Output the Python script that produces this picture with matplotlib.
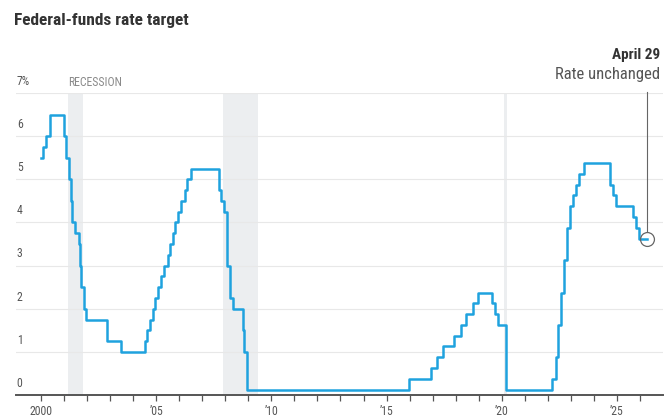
import matplotlib
matplotlib.use('Agg')
import matplotlib.pyplot as plt
from matplotlib import font_manager
import datetime

# fed funds target (midpoint of range after 2008), date of change -> new rate
change_dates = [
    '2000-01-01', '2000-02-02', '2000-03-21', '2000-05-16',
    '2001-01-03', '2001-01-31', '2001-03-20', '2001-04-18', '2001-05-15',
    '2001-06-27', '2001-08-21', '2001-09-17', '2001-10-02', '2001-11-06',
    '2001-12-11', '2002-11-06', '2003-06-25',
    '2004-06-30', '2004-08-10', '2004-09-21', '2004-11-10', '2004-12-14',
    '2005-02-02', '2005-03-22', '2005-05-03', '2005-06-30', '2005-08-09',
    '2005-09-20', '2005-11-01', '2005-12-13',
    '2006-01-31', '2006-03-28', '2006-05-10', '2006-06-29',
    '2007-09-18', '2007-10-31', '2007-12-11',
    '2008-01-22', '2008-01-30', '2008-03-18', '2008-04-30', '2008-10-08',
    '2008-10-29', '2008-12-16',
    '2015-12-16', '2016-12-14', '2017-03-15', '2017-06-14', '2017-12-13',
    '2018-03-21', '2018-06-13', '2018-09-26', '2018-12-19',
    '2019-07-31', '2019-09-18', '2019-10-30',
    '2020-03-03', '2020-03-15',
    '2022-03-16', '2022-05-04', '2022-06-15', '2022-07-27', '2022-09-21',
    '2022-11-02', '2022-12-14',
    '2023-02-01', '2023-03-22', '2023-05-03', '2023-07-26',
    '2024-09-18', '2024-11-07', '2024-12-18',
    '2025-09-17', '2025-10-29', '2025-12-10',
    '2026-04-29',
]
rates = [
    5.5, 5.75, 6.0, 6.5,
    6.0, 5.5, 5.0, 4.5, 4.0,
    3.75, 3.5, 3.0, 2.5, 2.0,
    1.75, 1.25, 1.0,
    1.25, 1.5, 1.75, 2.0, 2.25,
    2.5, 2.75, 3.0, 3.25, 3.5,
    3.75, 4.0, 4.25,
    4.5, 4.75, 5.0, 5.25,
    4.75, 4.5, 4.25,
    3.5, 3.0, 2.25, 2.0, 1.5,
    1.0, 0.125,
    0.375, 0.625, 0.875, 1.125, 1.375,
    1.625, 1.875, 2.125, 2.375,
    2.125, 1.875, 1.625,
    1.125, 0.125,
    0.375, 0.875, 1.625, 2.375, 3.125,
    3.875, 4.375,
    4.625, 4.875, 5.125, 5.375,
    4.875, 4.625, 4.375,
    4.125, 3.875, 3.625,
    3.625,
]
recessions = [('2001-03-01', '2001-11-01'), ('2007-12-01', '2009-06-01'),
              ('2020-02-01', '2020-04-01')]
year_labels = ['2000', '\u201905', '\u201910', '\u201915', '\u201920', '\u201925']
y_labels = ['0', '1', '2', '3', '4', '5', '6', '7%']
last_label = 'April 29'
last_note = 'Rate unchanged'


def dec_year(s):
    d = datetime.datetime.strptime(s, '%Y-%m-%d')
    start = datetime.datetime(d.year, 1, 1)
    end = datetime.datetime(d.year + 1, 1, 1)
    return d.year + (d - start).total_seconds() / (end - start).total_seconds()


def pick_font(names):
    for n in names:
        try:
            font_manager.findfont(n, fallback_to_default=False)
            return n
        except Exception:
            pass
    return 'DejaVu Sans'


fam = pick_font(['Liberation Sans Narrow', 'Roboto Condensed', 'Roboto'])
plt.rcParams['font.family'] = [fam, 'DejaVu Sans']

xs = [dec_year(s) for s in change_dates]

fig = plt.figure(figsize=(6.71, 4.17), dpi=100)
ax = fig.add_axes([16 / 671, 22 / 417, 647 / 671, 302 / 417])
ax.set_xlim(1998.915, 2027.0)
ax.set_ylim(0, 7)

for a, b in recessions:
    ax.axvspan(dec_year(a), dec_year(b), ymin=0, ymax=1, color='#eceef0', lw=0, zorder=0)

for v in range(1, 8):
    ax.axhline(v, color='#e8e8e8', lw=0.8, zorder=1)

ax.step(xs, rates, where='post', color='#1fa2de', lw=1.8, zorder=3, clip_on=False)

# annotation on the latest decision
ax.plot([xs[-1]], [rates[-1]], 'o', ms=10, mfc='none', mec='#666666', mew=0.9, zorder=4)
ax.plot([xs[-1], xs[-1]], [rates[-1] + 0.17, 7.03], color='#666666', lw=0.8, zorder=4, clip_on=False)
fig.text(660 / 671, 1 - 55 / 417, last_label, ha='right', va='center', fontsize=11,
         fontweight='bold', color='#333333')
fig.text(660 / 671, 1 - 75 / 417, last_note, ha='right', va='center', fontsize=12,
         color='#555555')

# y labels above gridlines
for i, lab in enumerate(y_labels):
    ax.text(1998.95, i + 0.12, lab, ha='left', va='bottom', fontsize=8.5, color='#555555')

ax.text(dec_year(recessions[0][0]), 7.1, 'RECESSION', ha='left', va='bottom',
        fontsize=8.5, color='#8a8a8a')

fig.text(14 / 671, 1 - 21 / 417, 'Federal-funds rate target', ha='left', va='center',
         fontsize=12.5, fontweight='bold', color='#333333')

for s in ['top', 'right', 'left']:
    ax.spines[s].set_visible(False)
ax.spines['bottom'].set_color('#555555')
ax.spines['bottom'].set_linewidth(1.4)
ax.set_yticks([])
ax.set_xticks(range(2000, 2027))
ax.set_xticklabels([year_labels[(y - 2000) // 5] if y % 5 == 0 else '' for y in range(2000, 2027)])
ax.tick_params(axis='x', length=4, width=0.9, color='#555555', labelsize=8.5,
               labelcolor='#555555', pad=3)

plt.savefig('out.png', dpi=100)
